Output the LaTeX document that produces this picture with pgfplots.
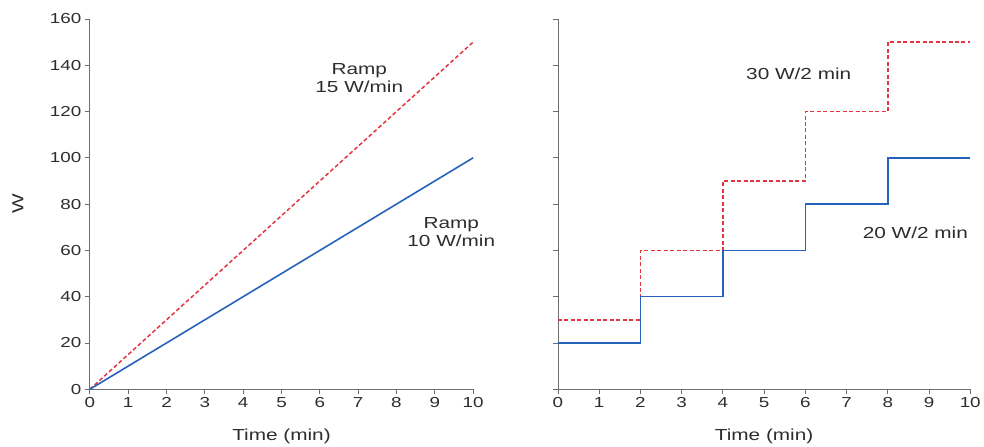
\documentclass[border=0pt]{standalone}
\usepackage{pgfplots}
\pgfplotsset{compat=1.18}
\usepackage{fontspec}
\setmainfont{Liberation Sans}[FakeStretch=1.3]

\definecolor{rampred}{RGB}{228,52,64}
\definecolor{rampblue}{RGB}{38,98,188}
\definecolor{axgray}{RGB}{110,110,110}
\definecolor{txt}{RGB}{45,45,45}

\pgfplotsset{
  panel/.style={
    scale only axis,
    height=371pt,
    xmin=0, xmax=10, ymin=0, ymax=160,
    xtick={0,...,10},
    ytick={0,20,...,160},
    axis lines=left,
    axis line style={axgray, line width=0.9pt, -},
    tick style={axgray, line width=0.9pt},
    tick align=outside,
    major tick length=5pt,
    clip=false,
    ticklabel style={font=\fontsize{14.5}{16}\selectfont, text=txt},
    label style={font=\fontsize{16}{18}\selectfont, text=txt},
    /pgf/number format/assume math mode=true,
    xlabel={Time (min)},
    xlabel style={at={(axis description cs:0.5,0)}, anchor=center, yshift=-47pt},
  },
}
\tikzset{
  red line/.style={rampred, line width=1.5pt, dash pattern=on 4pt off 2.5pt},
  blue line/.style={rampblue, line width=1.6pt},
  note/.style={text=txt, font=\fontsize{16}{18}\selectfont, align=center},
}

\begin{document}
\begin{tikzpicture}
\path (-90pt,-55pt) rectangle (894pt,390pt);

\begin{axis}[panel, width=384pt, ylabel={W},
    ylabel style={at={(axis description cs:-0.1875,0.5)}, anchor=center}]
  \addplot[red line] coordinates {(0,0) (10,150)};
  \addplot[blue line] coordinates {(0,0) (10,100)};
  \node[note] at (axis cs:7.03,134.5) {Ramp\\15 W/min};
  \node[note] at (axis cs:9.43,68.1) {Ramp\\10 W/min};
\end{axis}

\begin{axis}[panel, width=413pt, at={(469pt,0pt)}, yticklabels={}]
  \addplot[red line, const plot] coordinates {(0,30) (2,60) (4,90) (6,120) (8,150) (10,150)};
  \addplot[blue line, const plot] coordinates {(0,20) (2,40) (4,60) (6,80) (8,100) (10,100)};
  \node[note] at (axis cs:5.84,136.3) {30 W/2 min};
  \node[note] at (axis cs:8.67,67.7) {20 W/2 min};
\end{axis}
\end{tikzpicture}
\end{document}
